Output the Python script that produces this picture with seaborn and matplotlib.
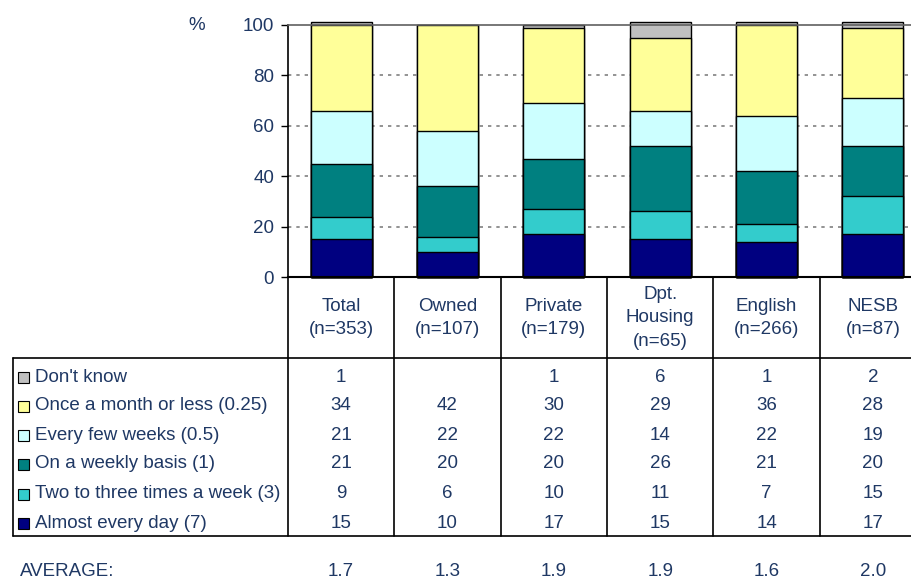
import matplotlib
matplotlib.use("Agg")
import matplotlib.pyplot as plt
import matplotlib.transforms as mtrans
from matplotlib.patches import Rectangle
import seaborn as sns
import pandas as pd
import numpy as np

categories = ["Total", "Owned", "Private", "Dpt.\nHousing", "English", "NESB"]
headers = ["Total\n(n=353)", "Owned\n(n=107)", "Private\n(n=179)", "Dpt.\nHousing\n(n=65)", "English\n(n=266)", "NESB\n(n=87)"]

series_names = ["Almost every day (7)", "Two to three times a week (3)", "On a weekly basis (1)",
                "Every few weeks (0.5)", "Once a month or less (0.25)", "Don't know"]
almost_daily = [15, 10, 17, 15, 14, 17]
two_three = [9, 6, 10, 11, 7, 15]
weekly = [21, 20, 20, 26, 21, 20]
few_weeks = [21, 22, 22, 14, 22, 19]
monthly = [34, 42, 30, 29, 36, 28]
dont_know = [1, 0, 1, 6, 1, 2]
dont_know_labels = ["1", "", "1", "6", "1", "2"]
averages = ["1.7", "1.3", "1.9", "1.9", "1.6", "2.0"]
yticks = [0, 20, 40, 60, 80, 100]

colors = ["#000080", "#33CCCC", "#008080", "#CCFFFF", "#FFFF99", "#C0C0C0"]
text_color = "#1F3864"
FS = 13.5

sns.set_style("white")
plt.rcParams["font.family"] = ["Liberation Sans", "DejaVu Sans"]

W, H = 912, 581
fig = plt.figure(figsize=(W / 100, H / 100), dpi=100)
ax_left, ax_right, ax_top, ax_bottom = 288, 926, 25, 277
ax = fig.add_axes([ax_left / W, 1 - ax_bottom / H, (ax_right - ax_left) / W, (ax_bottom - ax_top) / H])

series = [almost_daily, two_three, weekly, few_weeks, monthly, dont_know]
cum = np.cumsum(np.array(series, dtype=float), axis=0)
for i in reversed(range(len(series))):
    df = pd.DataFrame({"cat": categories, "val": cum[i]})
    sns.barplot(data=df, x="cat", y="val", color=colors[i], saturation=1, width=0.575,
                edgecolor="black", linewidth=1.0, ax=ax, order=categories)
for p in ax.patches:
    p.set_clip_on(False)

ax.set_xlim(-0.5, 5.5)
ax.set_ylim(0, 100)
ax.set_yticks(yticks)
ax.set_yticklabels([str(t) for t in yticks], fontsize=FS, color=text_color)
ax.set_xticks([])
ax.set_xlabel("")
ax.set_ylabel("")
ax.tick_params(axis="y", direction="out", length=5, width=1, color="black", pad=5, left=True)
for t in yticks[1:-1]:
    ax.axhline(t, color="#808080", linestyle=(0, (2, 3)), linewidth=1.2, zorder=0)
ax.spines["left"].set_color("black")
ax.spines["bottom"].set_color("black")
ax.spines["bottom"].set_linewidth(1.5)
ax.spines["left"].set_linewidth(1.2)
ax.spines["top"].set_color("#606060")
ax.spines["top"].set_linewidth(1.2)
ax.spines["right"].set_visible(False)

fig.text(197 / W, 1 - 25 / H, "%", fontsize=FS, color=text_color, ha="center", va="center")

# table
blend = mtrans.blended_transform_factory(ax.transData, fig.transFigure)
def fy(py):
    return 1 - py / H

table_top, header_bot, table_bot = 277, 358, 536
for i in range(len(categories)):
    xb = i - 0.5
    fig.add_artist(plt.Line2D([xb, xb], [fy(table_top), fy(table_bot)], transform=blend,
                              color="black", linewidth=1.2))
for py in (header_bot, table_bot):
    fig.add_artist(plt.Line2D([13 / W, 1], [fy(py), fy(py)], transform=fig.transFigure,
                              color="black", linewidth=1.2))
fig.add_artist(plt.Line2D([13 / W, 13 / W], [fy(header_bot), fy(table_bot)], transform=fig.transFigure,
                          color="black", linewidth=1.2))

for i, h in enumerate(headers):
    fig.text(i, fy(318), h, transform=blend, ha="center", va="center", fontsize=FS,
             color=text_color, linespacing=1.5)

row_y = [377, 406, 435, 464, 494, 523]
row_series = list(reversed(range(len(series))))  # Don't know first
for r, si in enumerate(row_series):
    y = fy(row_y[r])
    fig.add_artist(Rectangle((18 / W, y - 5.5 / H), 11 / W, 11 / H, transform=fig.transFigure,
                             facecolor=colors[si], edgecolor="black", linewidth=0.8))
    fig.text(35 / W, y, series_names[si], fontsize=FS, color=text_color, ha="left", va="center")
    for i in range(len(categories)):
        if si == 5:
            lbl = dont_know_labels[i]
        else:
            lbl = str(series[si][i])
        fig.text(i, y, lbl, transform=blend, ha="center", va="center", fontsize=FS, color=text_color)

fig.text(20 / W, fy(572), "AVERAGE:", fontsize=FS, color=text_color, ha="left", va="center")
for i, a in enumerate(averages):
    fig.text(i, fy(572), a, transform=blend, ha="center", va="center", fontsize=FS, color=text_color)

fig.savefig("out.png", dpi=100)
